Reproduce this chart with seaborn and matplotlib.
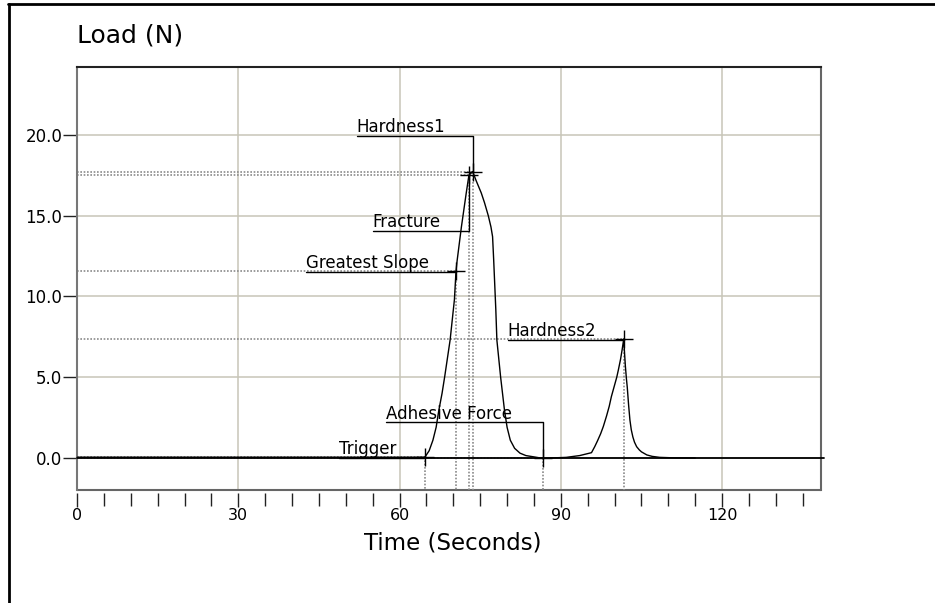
"""Texture analyser trace: load against time with the TPA event markers."""
import matplotlib.pyplot as plt
import seaborn as sns
from matplotlib.lines import Line2D
from matplotlib.ticker import MultipleLocator

# trace (seconds, newtons)
time_s = [0, 64.7, 65.5, 66.2, 66.8, 67.3, 67.9, 68.4, 69.4, 70.2, 70.5, 70.7,
          71.5, 72.4, 72.9, 73.6, 74.2, 75.2, 75.8, 76.5, 77.0, 77.3, 77.5,
          77.9, 78.1, 78.8, 79.5, 80.0, 80.6, 81.4, 82.4, 83.5, 84.8, 86.6,
          88.0, 91.0, 93.5, 95.7, 96.3, 96.8, 97.4, 97.9, 98.5, 99.0, 99.4,
          99.9, 100.4, 100.7, 101.1, 101.4, 101.7, 101.85, 102.0, 102.2,
          102.35, 102.6, 102.85, 103.1, 103.4, 103.7, 104.1, 104.6, 105.0,
          106.0, 107.0, 108.4, 111.0, 115.0]
load_n = [0.05, 0.05, 0.45, 1.1, 1.9, 2.95, 4.0, 5.05, 7.3, 9.8, 11.58, 12.2,
          14.3, 16.4, 17.5, 17.73, 17.2, 16.4, 15.8, 15.0, 14.3, 13.7, 12.3,
          9.2, 7.3, 5.0, 3.0, 1.9, 1.1, 0.6, 0.3, 0.15, 0.08, -0.02,
          0.0, 0.04, 0.15, 0.33, 0.7, 1.05, 1.5, 1.95, 2.6, 3.2, 3.8,
          4.4, 5.0, 5.45, 6.1, 6.7, 7.37, 6.5, 5.7, 4.9,
          4.4, 3.3, 2.35, 1.75, 1.3, 0.98, 0.7, 0.5, 0.38,
          0.19, 0.1, 0.04, 0.01, 0.0]

event_names = ["Hardness1", "Fracture", "Greatest Slope", "Hardness2",
               "Adhesive Force", "Trigger"]
event_time = [73.6, 72.9, 70.5, 101.7, 86.6, 64.7]
event_load = [17.73, 17.5, 11.58, 7.37, -0.02, 0.05]

# where each label sits (start of underline, height of underline)
label_x = [52.0, 55.0, 42.5, 80.1, 57.4, 48.8]
label_y = [19.95, 14.06, 11.52, 7.31, 2.23, 0.03]

x_ticks = [0, 30, 60, 90, 120]
y_ticks = [0, 5, 10, 15, 20]
y_tick_labels = ["0.0", "5.0", "10.0", "15.0", "20.0"]

sns.set_style("white")
plt.rcParams["font.family"] = ["DejaVu Sans"]
plt.rcParams["text.color"] = "black"
plt.rcParams["xtick.color"] = "black"
plt.rcParams["ytick.color"] = "black"

fig = plt.figure(figsize=(9.35, 6.03), dpi=100)
ax = fig.add_axes([0.0824, 0.1874, 0.7957, 0.7015])

y_bottom = -1.98
ax.set_xlim(0, 138.4)
ax.set_ylim(y_bottom, 24.2)
ax.set_xticks(x_ticks)
ax.xaxis.set_minor_locator(MultipleLocator(5))
ax.set_yticks(y_ticks, y_tick_labels)
ax.grid(True, which="major", color="#c8c5b8", lw=1.1, zorder=0)
ax.set_axisbelow(True)

ax.tick_params(axis="x", which="major", length=10, width=1, pad=0.5,
               labelsize=11.5, color="#222", bottom=True)
ax.tick_params(axis="x", which="minor", length=9, width=1, color="#222",
               bottom=True)
ax.tick_params(axis="y", length=10, width=1, pad=0.5, labelsize=12,
               color="#222", left=True)

# ticks hang a little below the frame
ax.spines["bottom"].set_position(("outward", 2.5))
ax.spines["bottom"].set_color("none")
ax.plot([0, 1], [0, 0], transform=ax.transAxes, color="#666", lw=1.5,
        clip_on=False)
ax.spines["top"].set_color("#222")
ax.spines["left"].set_color("#777")
ax.spines["right"].set_color("#666")
for s in ["top", "left", "right"]:
    ax.spines[s].set_linewidth(1.5)

ax.axhline(0, color="black", lw=1.3, xmax=1.004, clip_on=False, zorder=3)
sns.lineplot(x=time_s, y=load_n, color="black", lw=1, ax=ax, zorder=4)

for name, t, L, lx, ly in zip(event_names, event_time, event_load,
                              label_x, label_y):
    ax.plot([0, t], [L, L], color="#8a8a8a", lw=1.2, ls=(0, (1, 1)), zorder=2)
    ax.plot([t, t], [L, y_bottom], color="#8a8a8a", lw=1.2, ls=(0, (1, 1)),
            zorder=2)
    ax.plot([lx, t, t], [ly, ly, L], color="black", lw=1, zorder=5)
    ax.plot([t], [L], marker="+", ms=13, mew=1, color="black", zorder=5)
    ax.annotate(name, (lx, ly), xytext=(0, 2.5), textcoords="offset points",
                fontsize=12, ha="left", va="baseline", color="black")

ax.set_xlabel("")
ax.set_ylabel("")
fig.text(0.0824, 0.9287, "Load (N)", fontsize=18, va="baseline")
fig.text(0.4845, 1 - 549 / 603, "Time (Seconds)", fontsize=16.5,
         ha="center", va="baseline")

# outer frame, top and left edges only
fig.add_artist(Line2D([8 / 935, 1], [1 - 4 / 603] * 2, color="black", lw=2))
fig.add_artist(Line2D([9 / 935] * 2, [0, 1 - 4 / 603], color="black", lw=2))

fig.savefig("out.png", dpi=100)
